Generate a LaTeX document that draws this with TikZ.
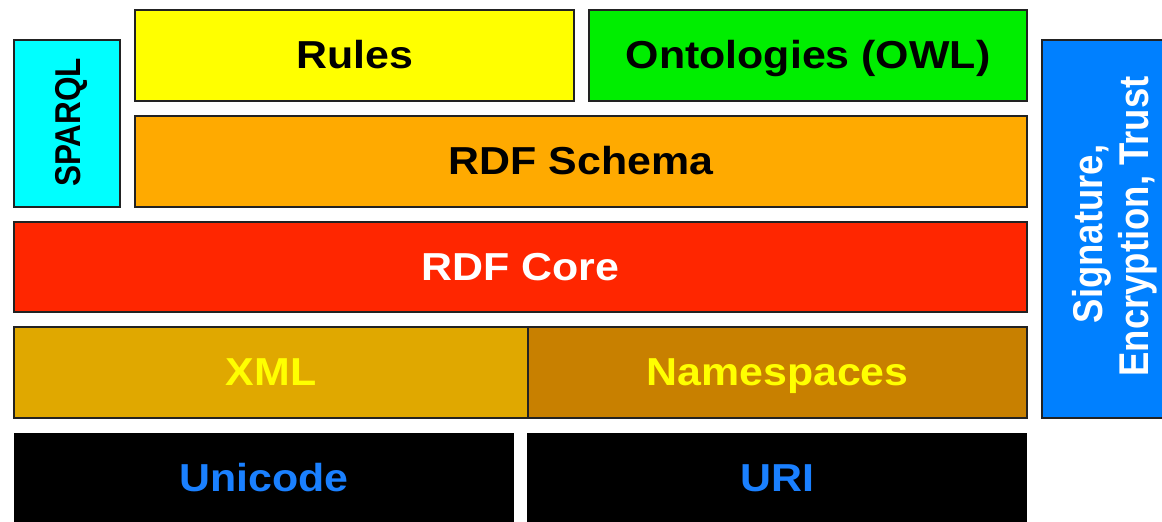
\documentclass[tikz,border=0pt]{standalone}
\usepackage{fontspec}
\usepackage{graphicx}
\setmainfont{Liberation Sans}
\definecolor{cSparql}{HTML}{00FFFF}
\definecolor{cRules}{HTML}{FFFF00}
\definecolor{cOwl}{HTML}{00EE00}
\definecolor{cSchema}{HTML}{FFAA00}
\definecolor{cCore}{HTML}{FF2600}
\definecolor{cXml}{HTML}{E0A800}
\definecolor{cNs}{HTML}{C88000}
\definecolor{cSig}{HTML}{0080FF}
\definecolor{cUni}{HTML}{1A80FF}
\definecolor{cEdge}{HTML}{222222}
\newcommand{\hlbl}[1]{\scalebox{1.1}[1]{#1}}
\newcommand{\vlbl}[1]{\scalebox{1}[1.14]{#1}}
\begin{document}
\begin{tikzpicture}[x=1pt,y=-1pt,
  layer/.style={draw=cEdge,line width=1.5pt},
  hfont/.style={font=\fontsize{39}{40}\selectfont\bfseries,inner sep=0pt,anchor=base},
  vfont/.style={font=\fontsize{31.5}{34}\selectfont\bfseries,inner sep=0pt,anchor=base,rotate=90},
  sfont/.style={font=\fontsize{36.5}{40}\selectfont\bfseries,inner sep=0pt,anchor=base,rotate=90}]
\useasboundingbox (0,0) rectangle (1162,522);
\clip (0,0) rectangle (1162,522);
% boxes
\path[layer,fill=cSparql] (14,40) rectangle (120,207);
\path[layer,fill=cRules] (135,10) rectangle (574,101);
\path[layer,fill=cOwl] (589,10) rectangle (1027,101);
\path[layer,fill=cSchema] (135,116) rectangle (1027,207);
\path[layer,fill=cCore] (14,222) rectangle (1027,312);
\path[layer,fill=cXml] (14,327) rectangle (528,418);
\path[layer,fill=cNs] (528,327) rectangle (1027,418);
\path[fill=black] (14,433) rectangle (514,530);
\path[fill=black] (527,433) rectangle (1027,530);
\path[layer,fill=cSig] (1042,40) rectangle (1180,418);
% labels
\node[vfont,text=black] (sparql) at (80,122.5) {\vlbl{SPARQL}};
\node[hfont,text=black] (rules) at (354.5,68) {\hlbl{Rules}};
\node[hfont,text=black] (owl) at (808,68) {\hlbl{Ontologies (OWL)}};
\node[hfont,text=black] (schema) at (581,174) {\hlbl{RDF Schema}};
\node[hfont,text=white] (core) at (520.5,280) {\hlbl{RDF Core}};
\node[hfont,text=cRules] (xml) at (271,385) {\hlbl{XML}};
\node[hfont,text=cRules] (ns) at (777.5,385) {\hlbl{Namespaces}};
\node[hfont,text=cUni] (uni) at (264,491) {\hlbl{Unicode}};
\node[hfont,text=cUni] (uri) at (777,491) {\hlbl{URI}};
\node[sfont,text=white] (sig1) at (1102,234) {\vlbl{Signature,}};
\node[sfont,text=white] (sig2) at (1148,226.5) {\vlbl{Encryption, Trust}};
\end{tikzpicture}
\end{document}
